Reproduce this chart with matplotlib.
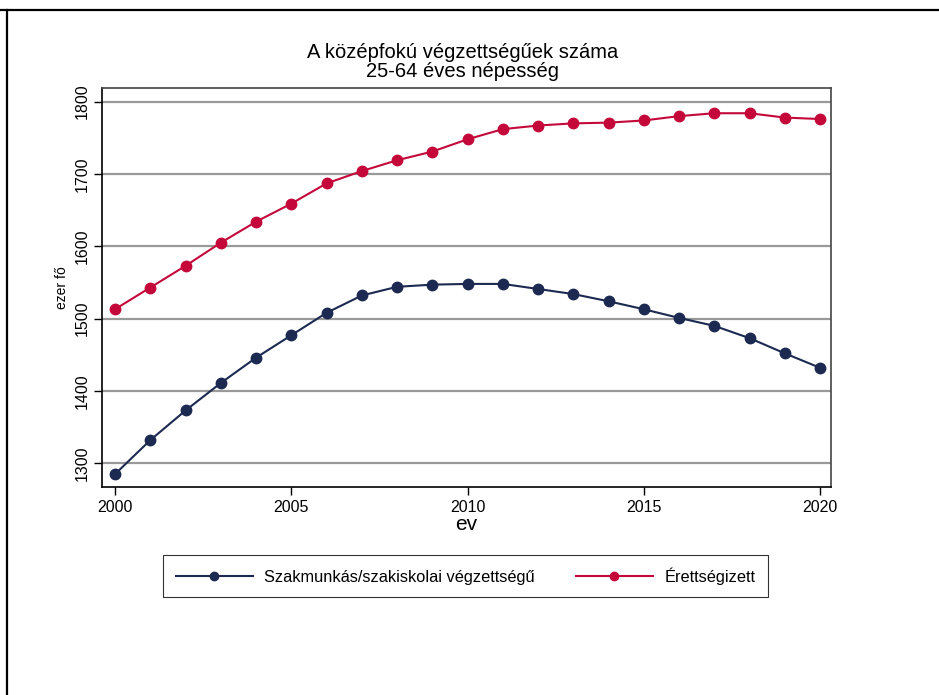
import numpy as np
import matplotlib.pyplot as plt
from matplotlib import rcParams
from matplotlib.lines import Line2D

rcParams['font.family'] = ['Liberation Sans', 'DejaVu Sans']

# adatok (ezer fő)
ev = list(range(2000, 2021))
szakmunkas = [1285, 1332, 1373, 1411, 1446, 1477, 1508, 1532, 1544, 1547, 1548,
              1548, 1541, 1534, 1524, 1513, 1501, 1490, 1473, 1452, 1432]
erettsegi = [1513, 1543, 1573, 1605, 1634, 1659, 1687, 1704, 1719, 1731, 1748,
             1762, 1767, 1770, 1771, 1774, 1780, 1784, 1784, 1778, 1776]
yticks = [1300, 1400, 1500, 1600, 1700, 1800]
xticks = [2000, 2005, 2010, 2015, 2020]

navy = '#1c2a52'
piros = '#c4093a'

W, H = 939, 695
fig = plt.figure(figsize=(W / 100, H / 100), dpi=100)
ax = fig.add_axes([102 / W, 1 - 487 / H, (831 - 102) / W, (487 - 88) / H])

ax.plot(ev, szakmunkas, color=navy, lw=1.5, marker='o', ms=7.5, label='Szakmunkás/szakiskolai végzettségű')
ax.plot(ev, erettsegi, color=piros, lw=1.5, marker='o', ms=7.5, label='Érettségizett')

ax.set_xlim(1999.63, 2020.31)
ax.set_ylim(1267.2, 1818.9)
ax.set_xticks(xticks)
ax.set_yticks(yticks)
ax.set_yticklabels([str(v) for v in yticks], rotation=90, va='center')
ax.tick_params(axis='both', labelsize=11.5, length=6, width=1, color='black', pad=3)

for v in yticks:
    ax.axhline(v, color='#999999', lw=1.6, zorder=0)

for s in ['top', 'right']:
    ax.spines[s].set_color('#444444')
    ax.spines[s].set_linewidth(1.2)
for s in ['left', 'bottom']:
    ax.spines[s].set_color('black')
    ax.spines[s].set_linewidth(1.2)

ax.set_xlabel('ev', fontsize=15, labelpad=0)
ax.set_ylabel('ezer fő', fontsize=10, labelpad=4)

fig.text(462.5 / W, 1 - 62 / H, 'A középfokú végzettségűek száma\n25-64 éves népesség',
         ha='center', va='center', fontsize=14.5, linespacing=0.95)

leg = fig.legend(loc='center', bbox_to_anchor=(465.5 / W, 1 - 576 / H), ncol=2,
                 fontsize=11.8, frameon=True, fancybox=False, edgecolor='black',
                 handlelength=4.7, columnspacing=2.5, borderpad=0.75,
                 handletextpad=0.7, markerscale=0.8)
leg.get_frame().set_linewidth(0.8)

# a képkivágás keretvonalai (csak felső és bal)
fig.add_artist(Line2D([0, 1], [1 - 10 / H, 1 - 10 / H], transform=fig.transFigure, color='black', lw=1.6))
fig.add_artist(Line2D([7 / W, 7 / W], [0, 1 - 10 / H], transform=fig.transFigure, color='black', lw=1.6))

plt.savefig('out.png', dpi=100)
